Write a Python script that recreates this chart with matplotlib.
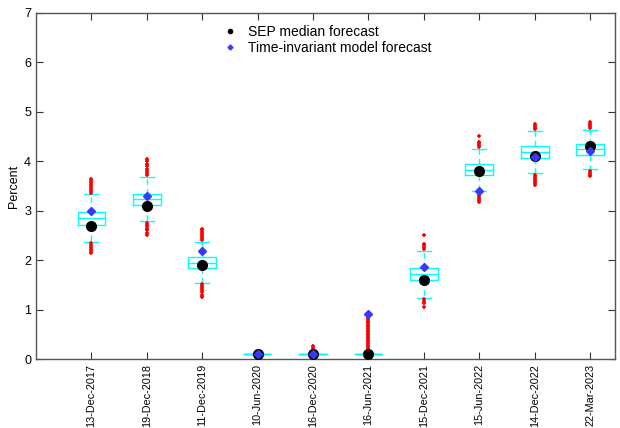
import matplotlib
matplotlib.use("Agg")
import matplotlib.pyplot as plt
from matplotlib.lines import Line2D

plt.rcParams['font.family'] = ['Liberation Sans', 'DejaVu Sans']

dates = ["13-Dec-2017", "19-Dec-2018", "11-Dec-2019", "10-Jun-2020", "16-Dec-2020",
         "16-Jun-2021", "15-Dec-2021", "15-Jun-2022", "14-Dec-2022", "22-Mar-2023"]

q1 = [2.71, 3.12, 1.84, 0.10, 0.10, 0.10, 1.59, 3.72, 4.07, 4.13]
med = [2.85, 3.23, 1.95, 0.10, 0.10, 0.10, 1.72, 3.83, 4.19, 4.24]
q3 = [2.97, 3.34, 2.06, 0.10, 0.10, 0.10, 1.84, 3.94, 4.31, 4.34]
whislo = [2.37, 2.79, 1.54, 0.10, 0.10, 0.10, 1.24, 3.40, 3.76, 3.84]
whishi = [3.33, 3.69, 2.37, 0.10, 0.10, 0.10, 2.19, 4.25, 4.62, 4.64]

fliers = [
    [3.36, 3.40, 3.44, 3.48, 3.52, 3.56, 3.60, 3.65, 2.34, 2.30, 2.26, 2.22, 2.18, 2.15],
    [3.72, 3.76, 3.80, 3.85, 3.90, 3.95, 4.00, 4.05, 2.76, 2.72, 2.68, 2.64, 2.60, 2.55, 2.50],
    [2.40, 2.44, 2.48, 2.52, 2.56, 2.60, 2.63, 1.51, 1.47, 1.43, 1.39, 1.35, 1.30, 1.26],
    [],
    [0.15, 0.19, 0.23, 0.27],
    [0.12, 0.15, 0.18, 0.21, 0.24, 0.27, 0.30, 0.33, 0.36, 0.39, 0.42, 0.45, 0.48,
     0.51, 0.54, 0.57, 0.60, 0.63, 0.66, 0.69, 0.72, 0.75, 0.78, 0.81, 0.84, 0.87, 0.90],
    [2.22, 2.26, 2.30, 2.33, 2.50, 1.21, 1.18, 1.14, 1.05],
    [4.28, 4.32, 4.36, 4.39, 4.52, 3.37, 3.33, 3.29, 3.25, 3.21, 3.18],
    [4.65, 4.68, 4.72, 4.75, 3.73, 3.69, 3.65, 3.61, 3.57, 3.52],
    [4.67, 4.71, 4.75, 4.79, 3.81, 3.77, 3.73, 3.70],
]

sep_median = [2.70, 3.10, 1.90, 0.10, 0.10, 0.10, 1.60, 3.80, 4.10, 4.30]
model_fc = [3.00, 3.29, 2.19, 0.10, 0.10, 0.92, 1.87, 3.40, 4.08, 4.20]

fig = plt.figure(figsize=(6.2, 4.28), dpi=100)
ax = fig.add_axes([0.058, 0.161, 0.934, 0.809])

positions = list(range(1, len(dates) + 1))
stats = []
for i in range(len(dates)):
    stats.append(dict(q1=q1[i], med=med[i], q3=q3[i], whislo=whislo[i],
                      whishi=whishi[i], fliers=fliers[i], label=dates[i]))

cyan = '#00FFFF'
ax.bxp(stats, positions=positions, widths=0.5,
       boxprops=dict(color=cyan, linewidth=1.0),
       medianprops=dict(color=cyan, linewidth=1.0),
       whiskerprops=dict(color=cyan, linewidth=1.0, linestyle=(0, (4, 3))),
       capprops=dict(color=cyan, linewidth=1.0),
       capwidths=0.25,
       flierprops=dict(marker='+', markeredgecolor='red', markersize=3,
                       markeredgewidth=1.2, linestyle='none'))

ax.plot(positions, sep_median, 'o', color='black', markersize=7, zorder=5)
ax.plot(positions, model_fc, 'D', color='#3838FF', markersize=4, zorder=6)

ax.set_xlim(0, 10.45)
ax.set_ylim(0, 7)
ax.set_yticks(range(0, 8))
ax.set_xticks(positions)
ax.set_xticklabels(dates, rotation=90, fontsize=7.8)
ax.tick_params(axis='y', labelsize=9)
ax.tick_params(direction='in', top=True, right=True,
               length=5, width=0.8, color='#333333')
for s in ax.spines.values():
    s.set_color('#555555')
    s.set_linewidth(1.0)
ax.set_ylabel('Percent', fontsize=9, labelpad=3)

handles = [Line2D([], [], marker='o', color='black', linestyle='none', markersize=3),
           Line2D([], [], marker='D', color='#3838FF', linestyle='none', markersize=2.5)]
ax.legend(handles, ['SEP median forecast', 'Time-invariant model forecast'],
          loc='upper center', bbox_to_anchor=(0.50, 1.0), frameon=False,
          fontsize=10, handletextpad=0.5, labelspacing=0.1, handlelength=1.5)

fig.savefig('out.png', dpi=100)
